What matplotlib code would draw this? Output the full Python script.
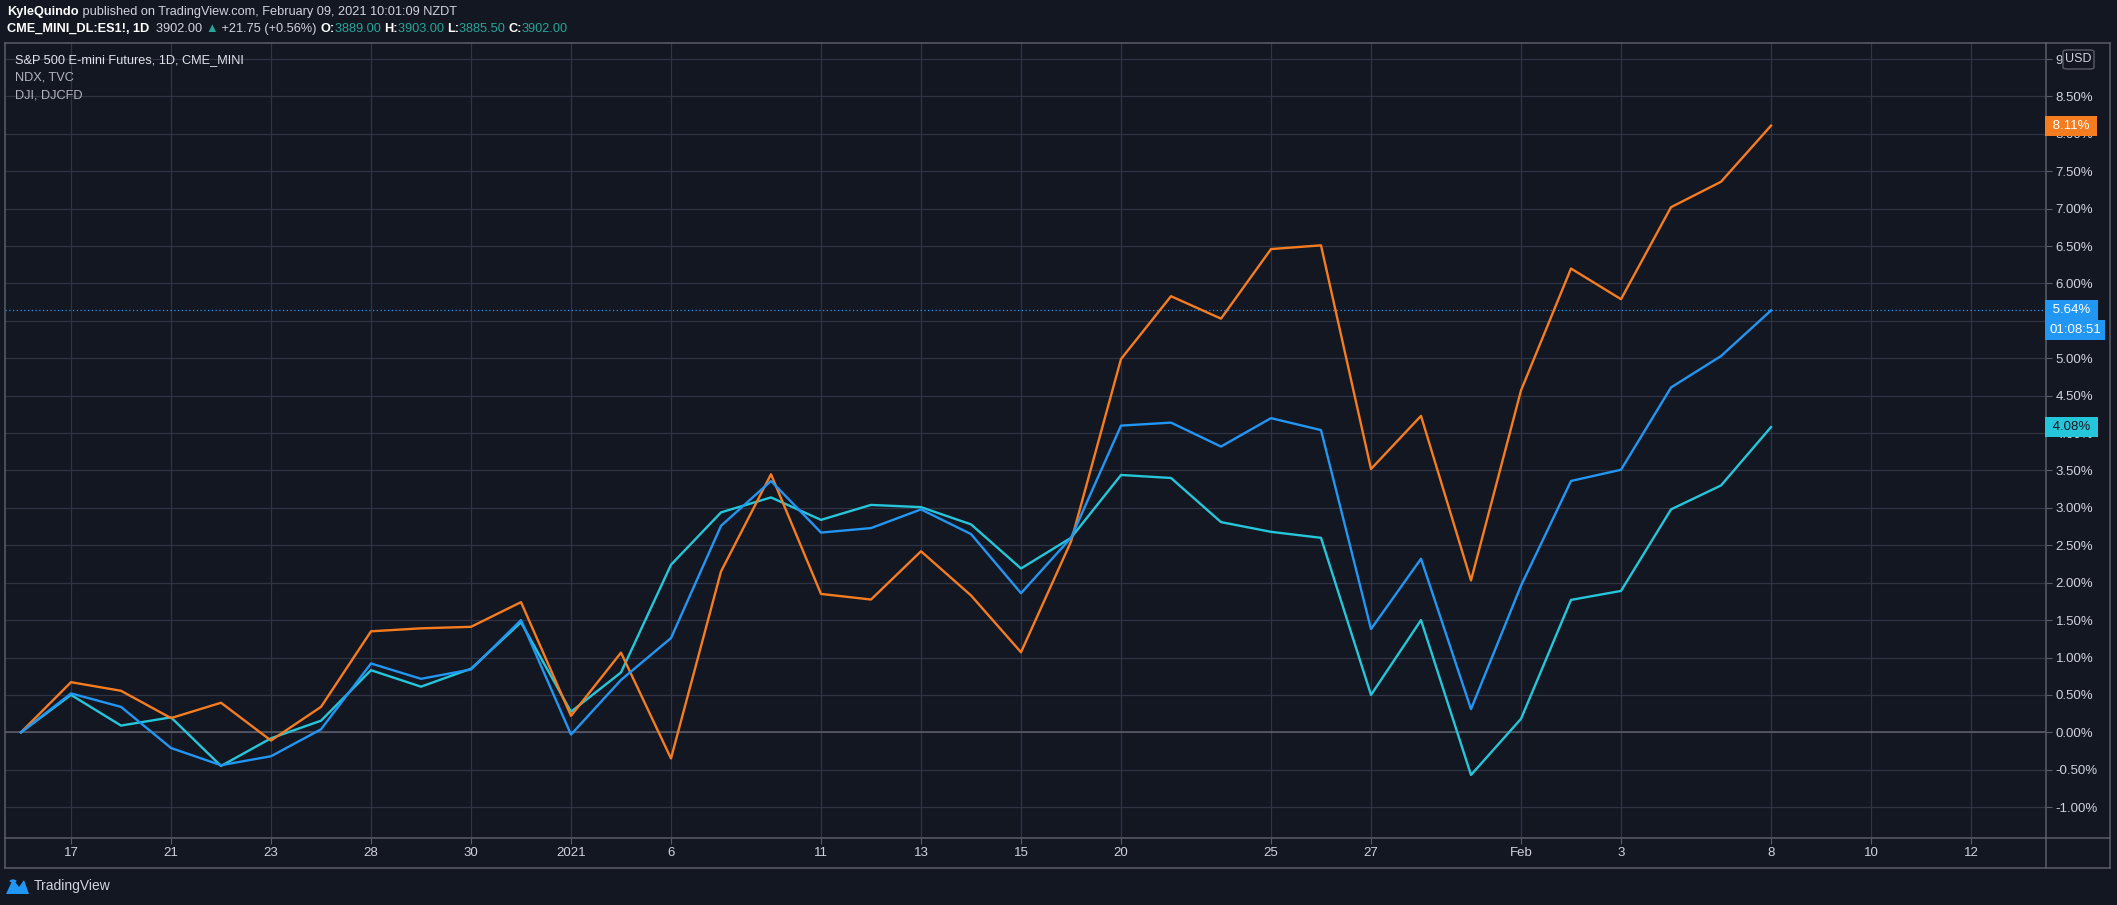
import matplotlib
matplotlib.use("Agg")
import matplotlib.pyplot as plt
import matplotlib.transforms as mtransforms
from matplotlib.patches import FancyBboxPatch, Circle, Polygon
from matplotlib.lines import Line2D
import numpy as np

# trading days on the time axis (last four are empty future days)
days = ["12-16", "12-17", "12-18", "12-21", "12-22", "12-23", "12-24", "12-28", "12-29", "12-30", "12-31",
        "01-04", "01-05", "01-06", "01-07", "01-08", "01-11", "01-12", "01-13", "01-14", "01-15",
        "01-19", "01-20", "01-21", "01-22", "01-25", "01-26", "01-27", "01-28", "01-29",
        "02-01", "02-02", "02-03", "02-04", "02-05", "02-08", "02-09", "02-10", "02-11", "02-12"]
dates = days[:36]

# % change since Dec 16
es = [0, 0.52, 0.34, -0.21, -0.44, -0.32, 0.04, 0.92, 0.715, 0.84, 1.5, -0.03, 0.7, 1.26, 2.76, 3.36,
      2.67, 2.73, 2.98, 2.65, 1.86, 2.6, 4.1, 4.14, 3.82, 4.2, 4.04, 1.38, 2.32, 0.31,
      1.96, 3.36, 3.51, 4.61, 5.03, 5.64]
ndx = [0, 0.67, 0.555, 0.19, 0.395, -0.11, 0.34, 1.35, 1.39, 1.41, 1.74, 0.22, 1.065, -0.35, 2.15, 3.45,
       1.85, 1.775, 2.42, 1.83, 1.07, 2.55, 4.99, 5.83, 5.53, 6.46, 6.51, 3.52, 4.23, 2.03,
       4.57, 6.2, 5.79, 7.02, 7.36, 8.11]
dji = [0, 0.5, 0.09, 0.2, -0.45, -0.08, 0.155, 0.83, 0.61, 0.85, 1.47, 0.275, 0.8, 2.24, 2.94, 3.14,
       2.84, 3.04, 3.01, 2.78, 2.19, 2.6, 3.44, 3.4, 2.81, 2.68, 2.6, 0.5, 1.5, -0.57,
       0.18, 1.77, 1.89, 2.98, 3.3, 4.08]

tick_days = ["12-17", "12-21", "12-23", "12-28", "12-30", "01-04", "01-06", "01-11", "01-13", "01-15",
             "01-20", "01-25", "01-27", "02-01", "02-03", "02-08", "02-10", "02-12"]
tick_labels = ["17", "21", "23", "28", "30", "2021", "6", "11", "13", "15",
               "20", "25", "27", "Feb", "3", "8", "10", "12"]

BG = "#131722"
GRID = "#2f3342"
ZERO = "#5d606b"
BORDER = "#5a5d68"
TXT = "#d1d4dc"
TEAL = "#26a69a"
BLUE = "#2196f3"
ORANGE = "#f57c1f"
CYAN = "#26c6da"

plt.rcParams["font.family"] = ["Liberation Sans Narrow", "Liberation Sans", "DejaVu Sans"]

W, H = 2117, 905
fig = plt.figure(figsize=(W / 100, H / 100), dpi=100, facecolor=BG)


def fx(px):
    return px / W


def fy(py):
    return 1 - py / H


ax = fig.add_axes([fx(5), fy(838), fx(2046) - fx(5), fy(43) - fy(838)])
ax.set_facecolor(BG)

x = [days.index(d) for d in dates]
ax.plot(x, dji, color=CYAN, lw=1.7, zorder=3)
ax.plot(x, ndx, color=ORANGE, lw=1.7, zorder=3)
ax.plot(x, es, color=BLUE, lw=1.7, zorder=4)

ax.set_xlim(-0.32, 40.5)
ax.set_ylim(-1.413, 9.215)

yt = np.arange(-1.0, 9.01, 0.5)
ylabels = [f"{v:.2f}%" for v in yt]
ylabels[-1] = "9"  # the rest of the top label sits under the USD box
ax.set_yticks(yt)
ax.set_yticklabels(ylabels)
ax.yaxis.tick_right()
ax.set_xticks([days.index(d) for d in tick_days])
ax.set_xticklabels(tick_labels)
ax.tick_params(axis="y", direction="out", length=4, color=BORDER, labelcolor=TXT, labelsize=9.5, pad=3)
ax.tick_params(axis="x", direction="out", length=4, color=BORDER, labelcolor=TXT, labelsize=9.5, pad=2.5)
ax.grid(color=GRID, lw=0.9)
ax.set_axisbelow(True)
ax.axhline(0, color=ZERO, lw=1.1, zorder=2)
ax.axhline(es[-1], color=BLUE, lw=0.9, ls=(0, (1, 2)), zorder=2)
for s in ax.spines.values():
    s.set_color(BORDER)
    s.set_linewidth(1.1)

# last value labels on the price scale
blend = mtransforms.blended_transform_factory(ax.transAxes, ax.transData)
for val, col, tc in [(ndx[-1], ORANGE, "white"), (es[-1], BLUE, "white"), (dji[-1], CYAN, BG)]:
    ax.text(1.0015, val, f" {val:.2f}% ", transform=blend, ha="left", va="center", fontsize=9.5,
            color=tc, clip_on=False, zorder=10,
            bbox=dict(boxstyle="square,pad=0.3", fc=col, ec="none"))
ax.annotate("01:08:51", xy=(1.0015, es[-1]), xycoords=blend, xytext=(0, -14),
            textcoords="offset points", ha="left", va="center", fontsize=9.5, color="white",
            annotation_clip=False, zorder=10,
            bbox=dict(boxstyle="square,pad=0.3", fc=BLUE, ec="none"))

# outer frame of price / time scales
for xs, ys in [([2046, 2110], [43, 43]), ([2110, 2110], [43, 868]), ([2046, 2110], [838, 838]),
               ([5, 2110], [868, 868]), ([5, 5], [838, 868]), ([2046, 2046], [838, 868])]:
    fig.add_artist(Line2D([fx(v) for v in xs], [fy(v) for v in ys], color=BORDER, lw=1.1))

usd = FancyBboxPatch((fx(2063), fy(69)), fx(31), 19 / H, boxstyle="round,pad=0,rounding_size=0.002",
                     fc=BG, ec=BORDER, lw=1, transform=fig.transFigure, zorder=20)
fig.add_artist(usd)
fig.text(fx(2078.5), fy(59.5), "USD", ha="center", va="center", color=TXT, fontsize=9, zorder=21)

renderer = fig.canvas.get_renderer()


def write_row(xp, yp, parts, size=9.2):
    for s, col, wt in parts:
        t = fig.text(fx(xp), fy(yp), s, color=col, fontweight=wt, fontsize=size, va="center", ha="left")
        xp += t.get_window_extent(renderer).width


write_row(7, 12, [("KyleQuindo", "white", "bold"),
                  (" published on TradingView.com, February 09, 2021 10:01:09 NZDT", TXT, "normal")])
write_row(7, 29, [("CME_MINI_DL:ES1!, 1D", "white", "bold"), ("  3902.00 ", TXT, "normal"),
                  ("\u25b2", TEAL, "normal"), (" +21.75 (+0.56%) ", TXT, "normal"),
                  ("O:", "white", "bold"), ("3889.00 ", TEAL, "normal"),
                  ("H:", "white", "bold"), ("3903.00 ", TEAL, "normal"),
                  ("L:", "white", "bold"), ("3885.50 ", TEAL, "normal"),
                  ("C:", "white", "bold"), ("3902.00", TEAL, "normal")])

fig.text(fx(15), fy(60), "S&P 500 E-mini Futures, 1D, CME_MINI", color="#e0e3eb", fontsize=9.2, va="center")
fig.text(fx(15), fy(77), "NDX, TVC", color="#b2b5be", fontsize=9.2, va="center")
fig.text(fx(15), fy(95), "DJI, DJCFD", color="#b2b5be", fontsize=9.2, va="center")

# TradingView logo
fig.add_artist(Polygon([(fx(6), fy(894)), (fx(13), fy(879)), (fx(19), fy(887)), (fx(24), fy(880)),
                        (fx(29), fy(894))], closed=True, fc=BLUE, ec="none"))
fig.add_artist(Circle((fx(13), fy(881)), 3.5 / W, fc=BLUE, ec="none"))
fig.text(fx(34), fy(886), "TradingView", color=TXT, fontsize=10, va="center")

fig.savefig("out.png", dpi=100, facecolor=BG)
